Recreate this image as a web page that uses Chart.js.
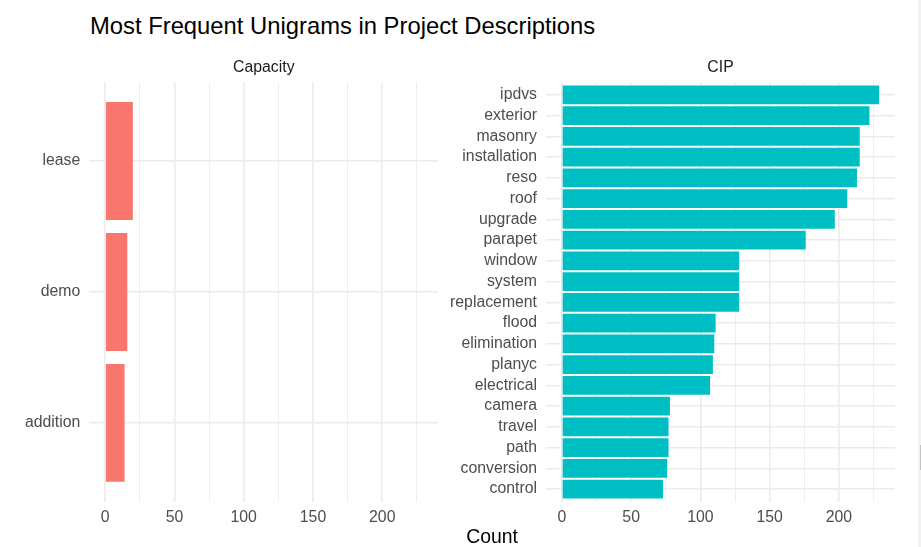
<!DOCTYPE html>
<html>
<head>
<meta charset="utf-8">
<script src="https://cdn.jsdelivr.net/npm/chart.js@4.4.0/dist/chart.umd.min.js"></script>
<style>
  body { margin: 0; background: #fff; width: 921px; height: 547px; overflow: hidden; position: relative;
         font-family: "Liberation Sans", Arial, sans-serif; }
  #title { position: absolute; left: 90px; top: 14px; font-size: 23.8px; line-height: 23.8px; color: #000; white-space: nowrap; }
  #xtitle { position: absolute; left: 392px; width: 200px; top: 527px; text-align: center;
            font-size: 19.4px; line-height: 19.4px; color: #000; }
  #capChart { position: absolute; left: 0; top: 1.5px; }
  #cipChart { position: absolute; left: 446px; top: 1.5px; }
  #edge { position: absolute; left: 918px; top: 0; width: 3px; height: 547px; background: #f2f2f2; }
  #thumb { position: absolute; left: 920px; top: 445px; width: 1px; height: 25px; background: #c4c4c4; }
</style>
</head>
<body>
<div id="title">Most Frequent Unigrams in Project Descriptions</div>
<canvas id="capChart" width="445" height="545"></canvas>
<canvas id="cipChart" width="475" height="545"></canvas>
<div id="xtitle">Count</div>
<div id="edge"></div><div id="thumb"></div>
<script>
// facet: Capacity
var capTerms = ['lease', 'demo', 'addition'];
var capCounts = [20, 16, 14];

// facet: CIP
var cipTerms = ['ipdvs', 'exterior', 'masonry', 'installation', 'reso', 'roof', 'upgrade', 'parapet',
    'window', 'system', 'replacement', 'flood', 'elimination', 'planyc', 'electrical',
    'camera', 'travel', 'path', 'conversion', 'control'];
var cipCounts = [229, 222, 215, 215, 213, 206, 197, 176,
    128, 128, 128, 111, 110, 109, 107,
    78, 77, 77, 76, 73];

var xTicks = [0, 50, 100, 150, 200];
var xMinorTicks = [25, 75, 125, 175, 225];

// shared x range, ggplot style 5% expansion
var countMax = Math.max.apply(null, capCounts.concat(cipCounts));
var xMin = -0.05 * countMax;
var xMax = 1.05 * countMax;

var fontFamily = '"Liberation Sans", Arial, sans-serif';

function renderFacet (canvasId, facetName, terms, counts, color, yAxisWidth, padRight) {
    var ctx = document.getElementById(canvasId).getContext('2d');
    var points = counts.map(function (c, i) { return { x: c, y: i + 1 }; });
    return new Chart(ctx, {
        type: 'bar',
        data: {
            datasets: [{
                label: facetName,
                data: points,
                backgroundColor: color,
                borderWidth: 0,
                barPercentage: 0.9,
                categoryPercentage: 1
            }]
        },
        options: {
            indexAxis: 'y',
            responsive: false,
            animation: false,
            layout: { padding: { top: 50, bottom: 15.5, left: 0, right: padRight } },
            plugins: {
                legend: { display: false },
                tooltip: { enabled: false },
                title: {
                    display: true,
                    text: facetName,
                    fullSize: false,
                    color: '#1a1a1a',
                    font: { family: fontFamily, size: 15.8, weight: 'normal' },
                    padding: { top: 6, bottom: 5.5 }
                }
            },
            scales: {
                x: {
                    type: 'linear',
                    min: xMin,
                    max: xMax,
                    afterBuildTicks: function (axis) {
                        axis.ticks = xTicks.concat(xMinorTicks).sort(function (a, b) { return a - b; })
                            .map(function (v) { return { value: v }; });
                    },
                    afterFit: function (axis) { axis.height = 30; },
                    grid: {
                        color: '#ebebeb',
                        lineWidth: function (c) { return c.tick && xTicks.indexOf(c.tick.value) >= 0 ? 1.6 : 0.8; },
                        drawTicks: false
                    },
                    border: { display: false },
                    ticks: {
                        autoSkip: false,
                        maxRotation: 0,
                        padding: 6.5,
                        color: '#4d4d4d',
                        font: { family: fontFamily, size: 15.8 },
                        callback: function (v) { return xTicks.indexOf(v) >= 0 ? String(v) : ''; }
                    }
                },
                y: {
                    type: 'linear',
                    reverse: true,
                    offset: false,
                    min: 0.4,
                    max: terms.length + 0.6,
                    afterBuildTicks: function (axis) {
                        axis.ticks = terms.map(function (t, i) { return { value: i + 1 }; });
                    },
                    afterFit: function (axis) { axis.width = yAxisWidth; },
                    grid: { color: '#ebebeb', lineWidth: 1.6, drawTicks: false, offset: false },
                    border: { display: false },
                    ticks: {
                        autoSkip: false,
                        padding: 9,
                        color: '#4d4d4d',
                        font: { family: fontFamily, size: 15.8 },
                        callback: function (v) { return terms[v - 1]; }
                    }
                }
            }
        }
    });
}

renderFacet('capChart', 'Capacity', capTerms, capCounts, '#F8766D', 89.3, 6.7);
renderFacet('cipChart', 'CIP', cipTerms, cipCounts, '#00BFC4', 100, 26);
</script>
</body>
</html>
